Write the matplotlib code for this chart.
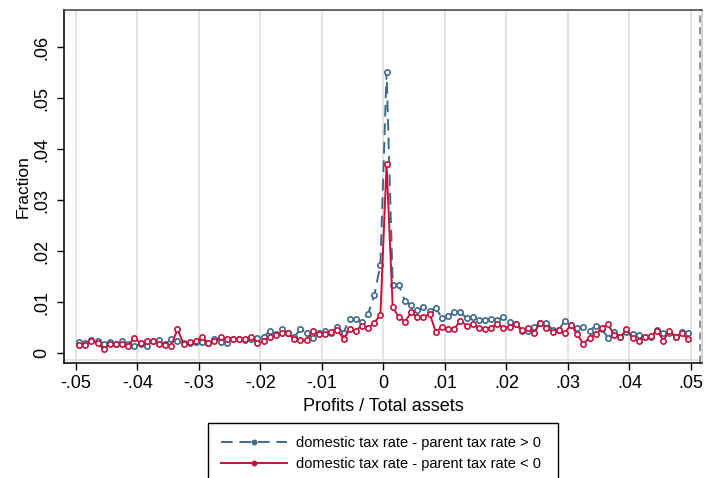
import numpy as np
import matplotlib
matplotlib.use("Agg")
import matplotlib.pyplot as plt
from matplotlib.lines import Line2D

plt.rcParams["font.family"] = ["Liberation Sans", "DejaVu Sans"]

# bin centres of the histogram (bin width .001)
BIN_CENTERS = np.round(np.arange(-0.0495, 0.05, 0.001), 4)

# fraction of firms per bin, domestic rate above parent rate
FRAC_POS = [
    0.00223, 0.00190, 0.00256, 0.00236, 0.00177, 0.00223, 0.00171, 0.00236, 0.00171, 0.00138,
    0.00171, 0.00138, 0.00243, 0.00256, 0.00171, 0.00282, 0.00236, 0.00190, 0.00190, 0.00223,
    0.00223, 0.00190, 0.00276, 0.00223, 0.00203, 0.00282, 0.00276, 0.00256, 0.00276, 0.00289,
    0.00308, 0.00433, 0.00374, 0.00466, 0.00387, 0.00322, 0.00466, 0.00400, 0.00302, 0.00387,
    0.00440, 0.00400, 0.00505, 0.00400, 0.00663, 0.00663, 0.00617, 0.00768, 0.01129, 0.01730,
    0.05520, 0.01340, 0.01340, 0.01010, 0.00945, 0.00840, 0.00895, 0.00833, 0.00879, 0.00690,
    0.00730, 0.00794, 0.00807, 0.00680, 0.00702, 0.00650, 0.00650, 0.00669, 0.00650, 0.00696,
    0.00617, 0.00571, 0.00440, 0.00433, 0.00518, 0.00584, 0.00597, 0.00450, 0.00453, 0.00636,
    0.00551, 0.00486, 0.00505, 0.00440, 0.00531, 0.00466, 0.00302, 0.00420, 0.00322, 0.00420,
    0.00367, 0.00354, 0.00322, 0.00308, 0.00453, 0.00400, 0.00387, 0.00322, 0.00420, 0.00387,
]

# fraction of firms per bin, domestic rate below parent rate
FRAC_NEG = [
    0.00157, 0.00157, 0.00230, 0.00203, 0.00072, 0.00171, 0.00171, 0.00171, 0.00138, 0.00302,
    0.00190, 0.00243, 0.00243, 0.00177, 0.00157, 0.00144, 0.00466, 0.00177, 0.00223, 0.00236,
    0.00308, 0.00190, 0.00243, 0.00308, 0.00276, 0.00282, 0.00276, 0.00276, 0.00322, 0.00190,
    0.00236, 0.00322, 0.00354, 0.00400, 0.00387, 0.00276, 0.00256, 0.00256, 0.00433, 0.00374,
    0.00367, 0.00407, 0.00453, 0.00276, 0.00466, 0.00440, 0.00538, 0.00486, 0.00597, 0.00748,
    0.03710, 0.00899, 0.00702, 0.00617, 0.00794, 0.00702, 0.00702, 0.00768, 0.00420, 0.00505,
    0.00472, 0.00472, 0.00636, 0.00538, 0.00564, 0.00486, 0.00466, 0.00499, 0.00571, 0.00486,
    0.00518, 0.00571, 0.00453, 0.00486, 0.00400, 0.00597, 0.00486, 0.00420, 0.00453, 0.00400,
    0.00551, 0.00367, 0.00177, 0.00302, 0.00367, 0.00486, 0.00564, 0.00354, 0.00308, 0.00466,
    0.00289, 0.00243, 0.00322, 0.00335, 0.00440, 0.00243, 0.00433, 0.00322, 0.00387, 0.00276,
]

X_TICKS = [-0.05, -0.04, -0.03, -0.02, -0.01, 0.0, 0.01, 0.02, 0.03, 0.04, 0.05]
X_TICK_LABELS = ["-.05", "-.04", "-.03", "-.02", "-.01", "0", ".01", ".02", ".03", ".04", ".05"]
Y_TICKS = [0.0, 0.01, 0.02, 0.03, 0.04, 0.05, 0.06]
Y_TICK_LABELS = ["0", ".01", ".02", ".03", ".04", ".05", ".06"]

LABEL_POS = "domestic tax rate - parent tax rate > 0"
LABEL_NEG = "domestic tax rate - parent tax rate < 0"

BLUE = "#3e6a8a"
RED = "#c8123c"


def main() -> None:
    fig = plt.figure(figsize=(7.08, 4.78), dpi=100)
    ax = fig.add_axes([64 / 708, 1 - 363 / 478, (702 - 64) / 708, (363 - 10) / 478])

    for xt in X_TICKS:
        ax.axvline(xt, color="#e2e2e2", linewidth=1.3, zorder=0)
    ax.axhline(-0.0014, color="#e2e2e2", linewidth=1.3, zorder=0)
    ax.axvline(0.05146, color="#8a8a8a", linewidth=1.3, linestyle=(0, (4, 2.5)), zorder=1)

    ax.plot(BIN_CENTERS, FRAC_POS, color=BLUE, linewidth=1.4, linestyle=(0, (6, 3.5)),
            marker="o", markersize=3.8, markerfacecolor="white", markeredgewidth=1.2, zorder=3)
    ax.plot(BIN_CENTERS, FRAC_NEG, color=RED, linewidth=1.4, linestyle="-",
            marker="o", markersize=3.8, markerfacecolor="white", markeredgewidth=1.2, zorder=4)

    ax.set_xlim(-0.05195, 0.05179)
    ax.set_ylim(-0.00197, 0.0673)

    ax.set_xticks(X_TICKS)
    ax.set_xticklabels(X_TICK_LABELS, fontsize=13)
    ax.set_yticks(Y_TICKS)
    ax.set_yticklabels(Y_TICK_LABELS, fontsize=13, rotation=90, va="center")
    ax.tick_params(axis="both", length=5, width=1, color="black", pad=4)
    ax.tick_params(axis="y", pad=5)

    ax.set_xlabel("Profits / Total assets", fontsize=13, labelpad=4)
    ax.set_ylabel("Fraction", fontsize=12.5, labelpad=1.5)

    ax.spines["left"].set_color("black")
    ax.spines["bottom"].set_color("black")
    ax.spines["top"].set_color("#404040")
    ax.spines["right"].set_color("#c8c8c8")
    for s in ax.spines.values():
        s.set_linewidth(1.1)

    handles = [
        Line2D([], [], color=BLUE, linewidth=1.4, linestyle=(0, (6, 3.5)),
               marker="o", markersize=3.2),
        Line2D([], [], color=RED, linewidth=1.4, linestyle="-",
               marker="o", markersize=3.2),
    ]
    leg = fig.legend(handles, [LABEL_POS, LABEL_NEG], loc="upper left",
                     bbox_to_anchor=(208 / 708, 1 - 423 / 478, (558 - 208) / 708, 0.0),
                     mode="expand", fontsize=10.5, frameon=True, fancybox=False,
                     edgecolor="black", framealpha=1, numpoints=1,
                     handlelength=4.5, handletextpad=0.65, labelspacing=0.45,
                     borderpad=0.9, borderaxespad=0)
    leg.get_frame().set_linewidth(1.0)

    fig.savefig("out.png", dpi=100)


if __name__ == "__main__":
    main()
